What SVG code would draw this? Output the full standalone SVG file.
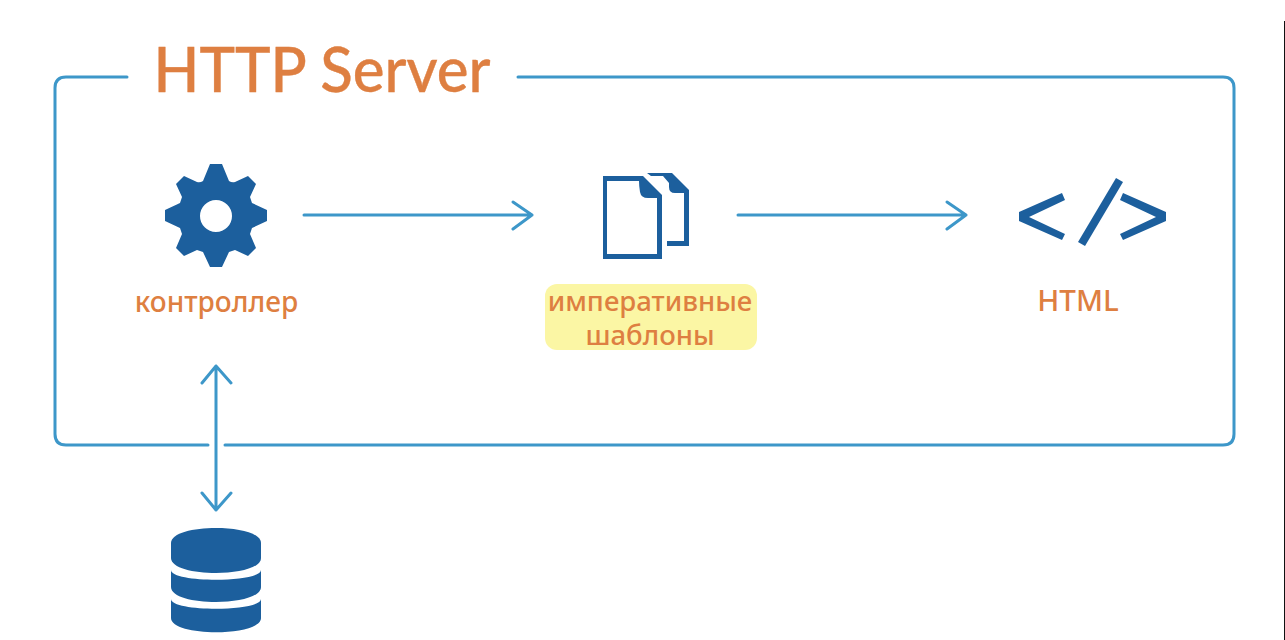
<svg xmlns="http://www.w3.org/2000/svg" width="1285" height="640" viewBox="0 0 1285 640">
<style>
.conn{fill:none;stroke:#3d97c9;stroke-width:3;stroke-linecap:round;stroke-linejoin:round}
.ico{fill:#1c5f9d}
.lbl{font-family:"Noto Sans","Open Sans","DejaVu Sans",sans-serif;font-size:27.5px;font-weight:500;fill:#de7f41;text-anchor:middle}
</style>
<rect width="1285" height="640" fill="#fff"/>
<rect x="1284" y="21" width="1" height="619" fill="#111"/>
<g id="connectors">
<path class="conn" d="M127 77H66Q55 77 55 88V434Q55 445 66 445H208M225 445H1223Q1234 445 1234 434V88Q1234 77 1223 77H518"/>
<path class="conn" d="M304 215H532M513 202L532 215L513 229"/>
<path class="conn" d="M738 215H966M947 202L966 215L947 229"/>
<path class="conn" d="M216 366V510M202 383L216 366L231 383M202 493L216 510L231 493"/>
</g>
<g id="title"><text x="322" y="92" font-family="Lato,'Noto Sans',sans-serif" font-size="61" font-weight="500" fill="#de7f41" stroke="#de7f41" stroke-width="0.4" text-anchor="middle" textLength="337" lengthAdjust="spacingAndGlyphs">HTTP Server</text></g>
<g id="controller">
<path class="ico" fill-rule="evenodd" d="M210 164H222L229 181Q232 183 235 182L248 176L256 184L250 197Q251 200 252 203L267 210V221L252 228Q251 231 250 234L256 248L248 256L235 250Q232 251 229 252L222 267H210L203 252Q200 251 197 250L184 256L176 248L182 234Q181 231 180 228L165 221V210L180 203Q181 200 182 197L176 184L184 176L197 182Q200 183 203 181ZM232 216A16 16 0 1 0 200 216A16 16 0 1 0 232 216Z"/>
<text class="lbl" x="216.5" y="312" style="font-size:28px">контроллер</text>
</g>
<g id="templates">
<rect x="545" y="284" width="212" height="66" rx="12" fill="#fbf6a4"/>
<path class="ico" fill-rule="evenodd" d="M603 176H643L662 195V259H603ZM607 181V254H657V198H648Q641 198 640 192Q639 186 639 181Z"/>
<path class="ico" d="M647 173H672L689 190V246H667V241H684V193H675Q669 193 669 187V183L663 176H651Z"/>
<text class="lbl"><tspan x="650" y="311">императивные</tspan><tspan x="650" y="345">шаблоны</tspan></text>
</g>
<g id="html">
<path class="ico" d="M1062 193L1065 200L1029 217L1065 234L1062 240L1019 221V212Z"/>
<path class="ico" d="M1123 193L1166 212V221L1123 240L1120 234L1156 217L1120 200Z"/>
<path class="ico" d="M1116 178L1123 182L1085 246L1078 242Z"/>
<text class="lbl" x="1078" y="311" style="font-size:29.5px">HTML</text>
</g>
<g id="database">
<path class="ico" d="M171 543C171 523 261 523 261 543V558C261 578 171 578 171 558Z"/>
<path class="ico" d="M171 570C171 583 261 583 261 570V587C261 607 171 607 171 587Z"/>
<path class="ico" d="M171 599C171 612 261 612 261 599V618C261 637 171 637 171 618Z"/>
</g>
</svg>
